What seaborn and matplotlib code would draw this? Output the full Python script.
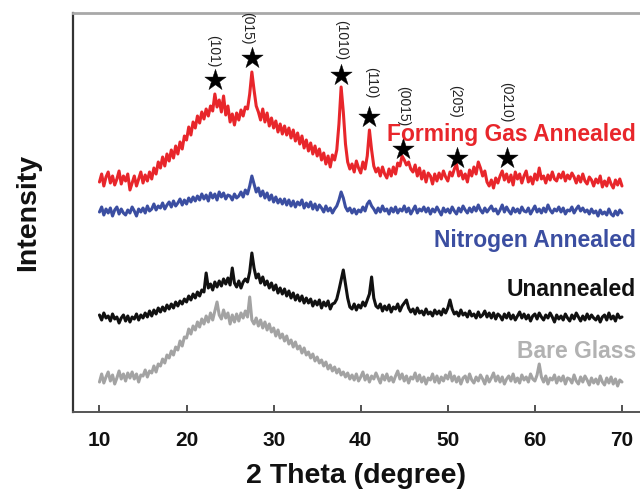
import numpy as np
import pandas as pd
import matplotlib
matplotlib.use("Agg")
import matplotlib.pyplot as plt
import seaborn as sns

# ---------------- data (offset intensity, arbitrary units) ----------------
two_theta_start, two_theta_stop, two_theta_step = 10.0, 70.0, 0.25

forming_gas = [
    230, 238, 226, 235, 240, 229, 236, 227, 233, 241, 228, 236, 231, 238, 222, 229,
    236, 226, 233, 240, 229, 237, 231, 240, 233, 244, 238, 250, 244, 255, 246, 258,
    251, 262, 254, 266, 258, 270, 263, 276, 272, 285, 277, 290, 284, 296, 289, 300,
    293, 303, 296, 306, 301, 318, 305, 312, 300, 316, 297, 306, 290, 298, 287, 299,
    292, 302, 296, 305, 303, 318, 340, 322, 306, 300, 292, 303, 290, 299, 286, 294,
    284, 291, 280, 288, 278, 286, 277, 284, 274, 282, 271, 279, 268, 276, 264, 272,
    261, 269, 258, 266, 256, 263, 252, 259, 248, 256, 245, 257, 252, 262, 288, 325,
    300, 268, 250, 243, 248, 240, 251, 244, 239, 250, 243, 256, 282, 262, 246, 240,
    244, 236, 245, 238, 234, 243, 236, 245, 238, 249, 246, 256, 252, 247, 250, 243,
    240, 247, 236, 244, 233, 241, 230, 239, 236, 228, 238, 231, 239, 233, 241, 235,
    231, 240, 236, 243, 248, 236, 241, 233, 238, 230, 242, 236, 245, 238, 250, 244,
    236, 241, 230, 226, 232, 224, 234, 229, 236, 241, 232, 238, 230, 237, 227, 240,
    233, 238, 229, 236, 241, 230, 235, 228, 238, 232, 244, 233, 236, 229, 237, 232,
    240, 233, 231, 238, 234, 240, 231, 237, 233, 239, 235, 229, 236, 230, 238, 231,
    228, 235, 232, 226, 233, 229, 236, 225, 231, 226, 234, 228, 224, 232, 227, 233,
    226,
]

nitrogen = [
    200, 205, 197, 203, 199, 204, 196, 202, 205, 198, 203, 199, 197, 202, 199, 205,
    201, 196, 203, 200, 204, 199, 206, 201, 203, 208, 202, 206, 204, 209, 203, 207,
    210, 205, 211, 206, 209, 213, 207, 212, 208, 214, 210, 215, 211, 216, 212, 218,
    213, 217, 211, 219, 214, 218, 212, 220, 215, 219, 213, 217, 216, 212, 218, 214,
    216, 220, 215, 222, 218, 226, 236, 228, 220, 224, 216, 221, 214, 219, 212, 217,
    210, 215, 209, 213, 208, 213, 207, 212, 206, 211, 205, 210, 207, 212, 204, 209,
    205, 210, 203, 208, 202, 207, 204, 200, 206, 201, 204, 199, 203, 206, 212, 220,
    214, 205, 201, 204, 199, 203, 198, 202, 200, 205, 201, 208, 211, 206, 203, 199,
    204, 200, 206, 201, 203, 198, 204, 200, 205, 199, 203, 201, 206, 200, 204, 198,
    202, 206, 199, 203, 201, 205, 200, 204, 198, 203, 200, 205, 201, 197, 204, 200,
    203, 199, 205, 201, 198, 204, 200, 206, 202, 199, 204, 200, 205, 201, 207, 202,
    199, 204, 200, 203, 206, 201, 203, 198, 202, 207, 200, 205, 201, 198, 204, 200,
    203, 199, 205, 201, 200, 204, 198, 202, 206, 200, 203, 199, 204, 200, 207, 202,
    199, 203, 201, 205, 200, 204, 198, 202, 201, 205, 199, 203, 206, 201, 204, 200,
    202, 198, 203, 199, 201, 196, 202, 198, 200, 197, 203, 198, 196, 201, 197, 202,
    199,
]

unannealed = [
    97, 92, 99, 94, 96, 91, 98, 93, 95, 89, 94, 97, 91, 96, 90, 95,
    93, 98, 92, 97, 94, 99, 95, 101, 96, 102, 98, 104, 100, 105, 101, 107,
    103, 108, 104, 110, 106, 111, 108, 113, 110, 116, 112, 118, 114, 120, 116, 122,
    120, 139, 124, 128, 122, 130, 125, 131, 126, 133, 128, 134, 127, 144, 129, 125,
    131, 124, 130, 133, 130, 140, 159, 144, 134, 138, 129, 135, 127, 131, 124, 129,
    122, 127, 119, 124, 118, 123, 116, 121, 114, 119, 112, 117, 111, 116, 109, 114,
    109, 113, 106, 111, 107, 112, 104, 110, 106, 111, 103, 108, 109, 113, 122, 132,
    142, 128, 114, 105, 103, 108, 102, 107, 104, 110, 106, 112, 118, 135, 114, 106,
    104, 108, 101, 106, 102, 107, 100, 105, 103, 108, 101, 106, 109, 112, 104, 100,
    103, 98, 104, 99, 101, 97, 103, 98, 100, 96, 102, 98, 101, 97, 103, 99,
    104, 112, 103, 98, 100, 96, 102, 97, 99, 95, 101, 96, 98, 94, 100, 95,
    97, 101, 95, 99, 94, 99, 93, 98, 96, 92, 98, 94, 99, 93, 97, 92,
    96, 100, 94, 98, 93, 97, 91, 96, 98, 93, 99, 95, 92, 97, 94, 99,
    95, 90, 97, 93, 96, 92, 98, 94, 91, 97, 93, 99, 95, 91, 96, 92,
    98, 93, 97, 94, 92, 96, 90, 95, 97, 92, 99, 93, 96, 91, 98, 94,
    95,
]

bare_glass = [
    30, 38, 29, 35, 40, 31, 37, 28, 34, 41, 33, 38, 31, 39, 34, 40,
    33, 38, 30, 37, 36, 42, 35, 41, 39, 46, 40, 48, 46, 53, 49, 57,
    54, 61, 57, 65, 62, 71, 66, 75, 74, 83, 78, 86, 82, 90, 85, 93,
    88, 96, 90, 99, 92, 101, 110, 97, 93, 102, 94, 99, 88, 97, 90, 98,
    91, 99, 94, 101, 95, 115, 92, 88, 94, 86, 92, 84, 90, 82, 88, 80,
    84, 76, 82, 74, 78, 71, 76, 68, 72, 65, 70, 63, 66, 59, 64, 57,
    60, 54, 58, 51, 55, 49, 52, 46, 50, 43, 47, 41, 45, 39, 43, 37,
    40, 35, 39, 33, 37, 32, 38, 31, 35, 40, 32, 37, 30, 36, 33, 39,
    34, 29, 37, 32, 38, 31, 35, 30, 36, 41, 33, 38, 31, 36, 29, 35,
    33, 39, 31, 37, 30, 35, 28, 34, 32, 38, 30, 36, 29, 35, 31, 37,
    33, 40, 31, 36, 30, 35, 28, 34, 36, 30, 38, 32, 29, 35, 31, 37,
    33, 28, 36, 30, 34, 39, 31, 36, 30, 35, 28, 33, 36, 31, 38, 30,
    34, 29, 37, 32, 35, 30, 38, 33, 31, 37, 48, 35, 30, 36, 28, 34,
    32, 37, 29, 35, 31, 36, 28, 34, 33, 29, 37, 31, 28, 35, 30, 36,
    32, 27, 34, 29, 33, 28, 36, 30, 27, 34, 29, 35, 28, 33, 26, 32,
    30,
]

series_names = ["Forming Gas Annealed", "Nitrogen Annealed", "Unannealed", "Bare Glass"]
series_colors = ["#e8262b", "#3b4ea1", "#111111", "#a3a3a3"]
label_colors = ["#e8262b", "#3b4ea1", "#111111", "#b2b2b2"]
label_heights = [277, 171, 122, 60]

peak_labels = ["(101)", "(015)", "(1010)", "(110)", "(0015)", "(205)", "(0210)"]
peak_positions = [23.26, 27.5, 37.7, 41.0, 44.8, 51.0, 56.8]
star_heights = [332, 354, 337, 295, 263, 254, 254]
peak_label_x = [23.0, 27.0, 37.8, 41.2, 44.9, 50.8, 56.7]
peak_label_top = [377, 400, 392, 345, 326, 327, 330]

xticks = [10, 20, 30, 40, 50, 60, 70]

# ---------------- figure ----------------
sns.set_theme(style="white")
plt.rcParams["font.family"] = ["Liberation Sans", "DejaVu Sans"]

fig = plt.figure(figsize=(6.4, 4.93), dpi=100)
ax = fig.add_axes([73 / 640, 81 / 493, 567 / 640, 399 / 493])

two_theta = np.arange(two_theta_start, two_theta_stop + two_theta_step / 2, two_theta_step)
frames = []
for name, vals in zip(series_names, [forming_gas, nitrogen, unannealed, bare_glass]):
    frames.append(pd.DataFrame({"two_theta": two_theta, "intensity": vals, "sample": name}))
df = pd.concat(frames, ignore_index=True)

for name, col in zip(series_names[::-1], series_colors[::-1]):
    sub = df[df["sample"] == name]
    sns.lineplot(data=sub, x="two_theta", y="intensity", color=col, linewidth=2.2,
                 ax=ax, legend=False, estimator=None)

sns.scatterplot(x=peak_positions, y=star_heights, marker="*", s=260, color="black",
                edgecolor="black", linewidth=0.3, ax=ax, legend=False, zorder=5)

for lab, lx, ly in zip(peak_labels, peak_label_x, peak_label_top):
    ax.text(lx, ly, lab, rotation=-90, ha="center", va="top", fontsize=10,
            color="#222222", zorder=6)

for name, col, h in zip(series_names, label_colors, label_heights):
    ax.text(71.6, h, name, ha="right", va="center", fontsize=16.5,
            fontweight="bold", color=col, zorder=6)

ax.set_xlim(6.96, 72.07)
ax.set_ylim(0, 399)
ax.set_xticks(xticks)
ax.set_xticklabels([str(t) for t in xticks], fontsize=15, fontweight="bold")
ax.set_yticks([])
ax.tick_params(axis="x", direction="in", length=5, width=1.3, color="#444444",
               pad=14, bottom=True, top=False, labelcolor="#111111")

ax.set_xlabel("2 Theta (degree)", fontsize=20.5, fontweight="bold", labelpad=9,
              color="#111111")
ax.set_ylabel("Intensity", fontsize=20.5, fontweight="bold", labelpad=23,
              color="#111111")

ax.spines["right"].set_visible(False)
ax.spines["left"].set_color("#333333")
ax.spines["left"].set_linewidth(1.6)
ax.spines["bottom"].set_color("#555555")
ax.spines["bottom"].set_linewidth(1.4)
ax.spines["top"].set_color("#a8a8a8")
ax.spines["top"].set_linewidth(2.0)

fig.savefig("out.png", dpi=100)
